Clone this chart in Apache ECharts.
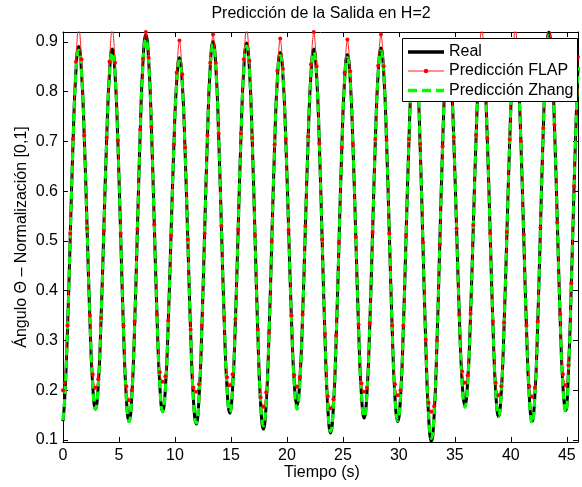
<!DOCTYPE html>
<html>
<head>
<meta charset="utf-8">
<script src="https://cdn.jsdelivr.net/npm/echarts@6/dist/echarts.min.js"></script>
<style>
  html, body { margin: 0; padding: 0; background: #fff; }
  #chart { width: 582px; height: 487px; }
</style>
</head>
<body>
<div id="chart"></div>
<script>
// Sample instants (s)
const tiempo = [0,
  0.15,0.4,0.65,0.9,1.15,1.4,
  1.65,1.9,2.15,2.4,2.65,2.9,
  3.15,3.4,3.65,3.9,4.15,4.4,
  4.65,4.9,5.15,5.4,5.65,5.9,
  6.15,6.4,6.65,6.9,7.15,7.4,
  7.65,7.9,8.15,8.4,8.65,8.9,
  9.15,9.4,9.65,9.9,10.15,10.4,
  10.65,10.9,11.15,11.4,11.65,11.9,
  12.15,12.4,12.65,12.9,13.15,13.4,
  13.65,13.9,14.15,14.4,14.65,14.9,
  15.15,15.4,15.65,15.9,16.15,16.4,
  16.65,16.9,17.15,17.4,17.65,17.9,
  18.15,18.4,18.65,18.9,19.15,19.4,
  19.65,19.9,20.15,20.4,20.65,20.9,
  21.15,21.4,21.65,21.9,22.15,22.4,
  22.65,22.9,23.15,23.4,23.65,23.9,
  24.15,24.4,24.65,24.9,25.15,25.4,
  25.65,25.9,26.15,26.4,26.65,26.9,
  27.15,27.4,27.65,27.9,28.15,28.4,
  28.65,28.9,29.15,29.4,29.65,29.9,
  30.15,30.4,30.65,30.9,31.15,31.4,
  31.65,31.9,32.15,32.4,32.65,32.9,
  33.15,33.4,33.65,33.9,34.15,34.4,
  34.65,34.9,35.15,35.4,35.65,35.9,
  36.15,36.4,36.65,36.9,37.15,37.4,
  37.65,37.9,38.15,38.4,38.65,38.9,
  39.15,39.4,39.65,39.9,40.15,40.4,
  40.65,40.9,41.15,41.4,41.65,41.9,
  42.15,42.4,42.65,42.9,43.15,43.4,
  43.65,43.9,44.15,44.4,44.65,44.9,
  45.15,45.4,45.65,45.9,46];

// Measured output (normalised angle)
const real = [0.138,
  0.181,0.320,0.511,0.701,0.840,0.891,
  0.842,0.709,0.527,0.344,0.211,0.162,
  0.210,0.343,0.524,0.705,0.838,0.886,
  0.836,0.699,0.512,0.324,0.187,0.137,
  0.189,0.332,0.526,0.721,0.863,0.915,
  0.864,0.726,0.536,0.347,0.208,0.157,
  0.205,0.335,0.513,0.690,0.820,0.868,
  0.819,0.684,0.500,0.316,0.181,0.132,
  0.184,0.324,0.517,0.709,0.850,0.901,
  0.851,0.714,0.528,0.341,0.204,0.154,
  0.204,0.340,0.526,0.712,0.848,0.898,
  0.846,0.704,0.510,0.316,0.174,0.122,
  0.173,0.311,0.501,0.690,0.828,0.879,
  0.832,0.702,0.525,0.347,0.218,0.170,
  0.218,0.349,0.528,0.707,0.838,0.886,
  0.834,0.693,0.500,0.307,0.166,0.114,
  0.165,0.304,0.495,0.685,0.824,0.875,
  0.826,0.692,0.510,0.327,0.193,0.144,
  0.194,0.330,0.516,0.702,0.838,0.888,
  0.838,0.700,0.513,0.325,0.187,0.137,
  0.187,0.325,0.514,0.702,0.840,0.890,
  0.837,0.692,0.494,0.295,0.150,0.097,
  0.150,0.294,0.491,0.688,0.832,0.885,
  0.837,0.706,0.528,0.349,0.218,0.170,
  0.218,0.350,0.530,0.710,0.842,0.890,
  0.840,0.704,0.519,0.333,0.197,0.147,
  0.196,0.332,0.516,0.701,0.836,0.885,
  0.835,0.698,0.511,0.324,0.187,0.137,
  0.190,0.333,0.529,0.724,0.868,0.920,
  0.869,0.730,0.540,0.349,0.210,0.159,
  0.240,0.410,0.610,0.790,0.850];

// FLAP predictor output
const flap = [0.200,
  0.215,0.330,0.515,0.705,0.860,0.935,
  0.865,0.712,0.525,0.350,0.232,0.205,
  0.222,0.345,0.520,0.708,0.860,0.930,
  0.858,0.702,0.515,0.330,0.208,0.180,
  0.200,0.338,0.524,0.724,0.866,0.920,
  0.868,0.729,0.533,0.352,0.236,0.217,
  0.228,0.340,0.511,0.694,0.838,0.903,
  0.835,0.688,0.503,0.322,0.205,0.197,
  0.212,0.330,0.515,0.712,0.858,0.915,
  0.858,0.716,0.530,0.346,0.226,0.210,
  0.232,0.343,0.523,0.716,0.865,0.930,
  0.862,0.707,0.512,0.322,0.186,0.167,
  0.196,0.316,0.500,0.694,0.842,0.907,
  0.846,0.705,0.522,0.350,0.230,0.207,
  0.226,0.352,0.530,0.710,0.855,0.920,
  0.851,0.696,0.503,0.313,0.188,0.164,
  0.182,0.310,0.497,0.688,0.838,0.905,
  0.841,0.695,0.508,0.332,0.214,0.197,
  0.205,0.335,0.518,0.705,0.852,0.915,
  0.851,0.703,0.515,0.330,0.212,0.190,
  0.200,0.330,0.512,0.705,0.846,0.900,
  0.842,0.695,0.497,0.302,0.175,0.157,
  0.168,0.300,0.493,0.690,0.838,0.900,
  0.845,0.709,0.525,0.352,0.238,0.215,
  0.230,0.354,0.532,0.713,0.862,0.930,
  0.860,0.707,0.516,0.338,0.215,0.190,
  0.208,0.336,0.518,0.704,0.858,0.930,
  0.857,0.701,0.513,0.330,0.208,0.187,
  0.205,0.338,0.527,0.727,0.882,0.935,
  0.877,0.733,0.537,0.353,0.232,0.210,
  0.250,0.415,0.610,0.800,0.870];

// Zhang predictor output
const zhang = [0.140,
  0.183,0.320,0.510,0.698,0.836,0.884,
  0.838,0.706,0.527,0.344,0.211,0.162,
  0.210,0.343,0.524,0.703,0.834,0.879,
  0.832,0.697,0.512,0.324,0.187,0.137,
  0.189,0.332,0.526,0.719,0.858,0.906,
  0.859,0.724,0.536,0.347,0.208,0.157,
  0.205,0.335,0.513,0.688,0.816,0.862,
  0.815,0.682,0.500,0.316,0.181,0.134,
  0.184,0.324,0.517,0.707,0.846,0.895,
  0.847,0.712,0.528,0.341,0.204,0.156,
  0.204,0.340,0.526,0.710,0.844,0.892,
  0.842,0.702,0.510,0.316,0.176,0.128,
  0.175,0.311,0.501,0.688,0.824,0.873,
  0.828,0.700,0.525,0.345,0.213,0.162,
  0.212,0.347,0.528,0.705,0.834,0.880,
  0.830,0.691,0.500,0.307,0.167,0.117,
  0.166,0.304,0.495,0.683,0.820,0.869,
  0.822,0.690,0.510,0.327,0.193,0.146,
  0.194,0.330,0.516,0.700,0.834,0.882,
  0.834,0.698,0.513,0.325,0.187,0.139,
  0.187,0.325,0.514,0.700,0.836,0.884,
  0.833,0.690,0.494,0.297,0.154,0.103,
  0.154,0.296,0.491,0.686,0.828,0.879,
  0.833,0.704,0.528,0.347,0.214,0.166,
  0.214,0.348,0.530,0.708,0.838,0.884,
  0.836,0.702,0.519,0.333,0.197,0.148,
  0.196,0.332,0.516,0.699,0.832,0.879,
  0.831,0.696,0.511,0.322,0.184,0.133,
  0.187,0.331,0.529,0.722,0.864,0.913,
  0.865,0.728,0.540,0.347,0.206,0.155,
  0.237,0.410,0.610,0.790,0.850];

const xTicks = [0, 5, 10, 15, 20, 25, 30, 35, 40, 45];
const yTicks = [0.1, 0.2, 0.3, 0.4, 0.5, 0.6, 0.7, 0.8, 0.9];
const seriesNames = ['Real', 'Predicción FLAP', 'Predicción Zhang'];
const titleText = 'Predicción de la Salida en H=2';
const xName = 'Tiempo (s)';
const yName = 'Ángulo Θ – Normalización [0,1]';

const FONT = '"Liberation Sans", Arial, Helvetica, sans-serif';
const TXT = '16px ' + FONT;
const pairs = arr => tiempo.map((t, i) => [t, arr[i]]);

const boxLine = { show: true, onZero: false, lineStyle: { color: '#000', width: 1 } };
const inTick = vals => ({ show: true, inside: true, length: 5, customValues: vals, lineStyle: { color: '#000', width: 1 } });

// Boxed legend in the upper-right corner of the axes
const LG = { x: 402.5, y: 38.5, w: 175, h: 63, lineX0: 408, lineX1: 444, textX: 449, rows: [52, 71, 90.5] };
const legendGraphics = [
  { type: 'rect', z: 100, shape: { x: LG.x, y: LG.y, width: LG.w, height: LG.h },
    style: { fill: '#fff', stroke: '#000', lineWidth: 1 } },
  { type: 'line', z: 101, shape: { x1: LG.lineX0, y1: LG.rows[0], x2: LG.lineX1, y2: LG.rows[0] },
    style: { stroke: '#000', lineWidth: 3.5 } },
  { type: 'line', z: 101, shape: { x1: LG.lineX0, y1: LG.rows[1], x2: LG.lineX1, y2: LG.rows[1] },
    style: { stroke: '#ff2020', lineWidth: 1 } },
  { type: 'circle', z: 102, shape: { cx: (LG.lineX0 + LG.lineX1) / 2, cy: LG.rows[1], r: 2.2 },
    style: { fill: '#ff0000' } },
  { type: 'line', z: 101, shape: { x1: LG.lineX0, y1: LG.rows[2], x2: LG.lineX1, y2: LG.rows[2] },
    style: { stroke: '#00ff00', lineWidth: 3.5, lineDash: [9, 5] } }
].concat(seriesNames.map((n, i) => ({
  type: 'text', z: 101, x: LG.textX, y: LG.rows[i],
  style: { text: n, font: TXT, fill: '#000', align: 'left', verticalAlign: 'middle' }
})));

// Title and axis captions
const captionGraphics = [
  { type: 'text', x: 321, y: 14, z: 100,
    style: { text: titleText, font: TXT, fill: '#000', align: 'center', verticalAlign: 'middle' } },
  { type: 'text', x: 322, y: 473, z: 100,
    style: { text: xName, font: TXT, fill: '#000', align: 'center', verticalAlign: 'middle' } },
  { type: 'text', x: 22, y: 237, z: 100, rotation: Math.PI / 2,
    style: { text: yName, font: TXT, fill: '#000', align: 'center', verticalAlign: 'middle' } }
];

const chart = echarts.init(document.getElementById('chart'), null, { renderer: 'canvas' });
chart.setOption({
  animation: false,
  backgroundColor: '#fff',
  grid: { left: 63, right: 4, top: 32, bottom: 45, containLabel: false },
  graphic: captionGraphics.concat(legendGraphics),
  xAxis: [{
    type: 'value', position: 'bottom', min: 0, max: 46,
    axisLine: boxLine, axisTick: inTick(xTicks), splitLine: { show: false },
    axisLabel: { customValues: xTicks, margin: 6, color: '#000', fontSize: 16, fontFamily: FONT }
  }, {
    type: 'value', position: 'top', min: 0, max: 46,
    axisLine: boxLine, axisTick: inTick(xTicks), axisLabel: { show: false }, splitLine: { show: false }
  }],
  yAxis: [{
    type: 'value', position: 'left', min: 0.096, max: 0.92,
    axisLine: boxLine, axisTick: inTick(yTicks), splitLine: { show: false },
    axisLabel: { customValues: yTicks, margin: 5, color: '#000', fontSize: 16, fontFamily: FONT,
                 formatter: v => v.toFixed(1) }
  }, {
    type: 'value', position: 'right', min: 0.096, max: 0.92,
    axisLine: boxLine, axisTick: inTick(yTicks), axisLabel: { show: false }, splitLine: { show: false }
  }],
  series: [{
    name: seriesNames[0], type: 'line', data: pairs(real), smooth: 0.5,
    symbol: 'none', lineStyle: { color: '#000', width: 3 }, itemStyle: { color: '#000' }
  }, {
    name: seriesNames[1], type: 'line', data: pairs(flap), smooth: 0.3,
    symbol: 'circle', symbolSize: 4, showSymbol: true,
    lineStyle: { color: '#ff2020', width: 1 }, itemStyle: { color: '#ff0000' }
  }, {
    name: seriesNames[2], type: 'line', data: pairs(zhang), smooth: 0.5,
    symbol: 'none', lineStyle: { color: '#00ff00', width: 3, type: [8, 5] }, itemStyle: { color: '#00ff00' }
  }]
});
</script>
</body>
</html>
